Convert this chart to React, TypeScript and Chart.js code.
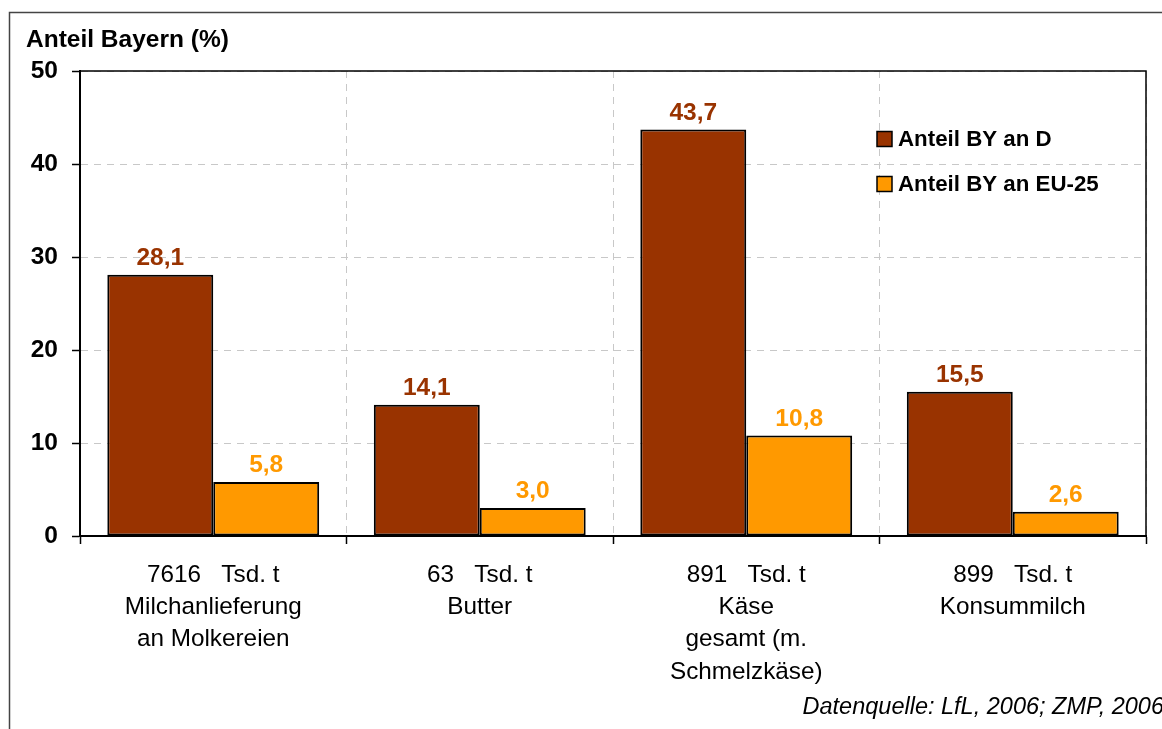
import React, { useEffect, useRef } from "react";
import { Chart, registerables } from "chart.js";

Chart.register(...registerables);

const categories: string[][] = [
  ["7616   Tsd. t", "Milchanlieferung", "an Molkereien"],
  ["63   Tsd. t", "Butter"],
  ["891   Tsd. t", "Käse", "gesamt (m.", "Schmelzkäse)"],
  ["899   Tsd. t", "Konsummilch"],
];
const seriesNames = ["Anteil BY an D", "Anteil BY an EU-25"];
const shareD = [28.1, 14.1, 43.7, 15.5];
const shareEU = [5.8, 3.0, 10.8, 2.6];
const yTicks = [0, 10, 20, 30, 40, 50];
const yTitle = "Anteil Bayern (%)";
const sourceNote = "Datenquelle: LfL, 2006; ZMP, 2006";

const COLORS = ["#993300", "#FF9900"];
const FONT = "'Liberation Sans', Arial, sans-serif";

const decorPlugin = {
  id: "decor",
  afterDraw(chart: any) {
    const ctx = chart.ctx as CanvasRenderingContext2D;
    const area = chart.chartArea;
    ctx.save();
    // outer frame
    ctx.strokeStyle = "#444";
    ctx.lineWidth = 1.5;
    ctx.beginPath();
    ctx.moveTo(9.5, 740);
    ctx.lineTo(9.5, 12.5);
    ctx.lineTo(1170, 12.5);
    ctx.stroke();
    // plot frame top/right
    ctx.strokeStyle = "#000";
    ctx.lineWidth = 1.5;
    ctx.beginPath();
    ctx.moveTo(area.left, area.top);
    ctx.lineTo(area.right, area.top);
    ctx.lineTo(area.right, area.bottom);
    ctx.stroke();
    // y title
    ctx.fillStyle = "#000";
    ctx.font = `bold 24.5px ${FONT}`;
    ctx.textAlign = "left";
    ctx.textBaseline = "alphabetic";
    ctx.fillText(yTitle, 26, 47);
    // data labels
    chart.data.datasets.forEach((ds: any, di: number) => {
      const meta = chart.getDatasetMeta(di);
      ctx.fillStyle = COLORS[di];
      ctx.font = `bold 24.5px ${FONT}`;
      ctx.textAlign = "center";
      ctx.textBaseline = "alphabetic";
      meta.data.forEach((bar: any, i: number) => {
        const v = ds.data[i] as number;
        ctx.fillText(v.toFixed(1).replace(".", ","), bar.x, bar.y - 10);
      });
    });
    // legend
    ctx.font = `bold 22.3px ${FONT}`;
    ctx.textAlign = "left";
    ctx.textBaseline = "middle";
    seriesNames.forEach((name, i) => {
      const y = 139 + i * 45;
      ctx.fillStyle = COLORS[i];
      ctx.fillRect(877, y - 7.5, 15, 15);
      ctx.strokeStyle = "#000";
      ctx.lineWidth = 1.5;
      ctx.strokeRect(877, y - 7.5, 15, 15);
      ctx.fillStyle = "#000";
      ctx.fillText(name, 898, y + 1);
    });
    // source note
    ctx.font = `italic 23.5px ${FONT}`;
    ctx.textAlign = "right";
    ctx.textBaseline = "middle";
    ctx.fillStyle = "#000";
    ctx.fillText(sourceNote, 1164, 707);
    ctx.restore();
  },
};

export default function App() {
  const ref = useRef<HTMLCanvasElement>(null);
  useEffect(() => {
    const prevMargin = document.body.style.margin;
    document.body.style.margin = "0";
    const chart = new Chart(ref.current as HTMLCanvasElement, {
      type: "bar",
      data: {
        labels: categories,
        datasets: [
          {
            label: seriesNames[0],
            data: shareD,
            backgroundColor: COLORS[0],
            borderColor: "#000",
            borderWidth: 2,
            borderSkipped: false,
          },
          {
            label: seriesNames[1],
            data: shareEU,
            backgroundColor: COLORS[1],
            borderColor: "#000",
            borderWidth: 2,
            borderSkipped: false,
          },
        ],
      },
      options: {
        animation: false,
        responsive: false,
        maintainAspectRatio: false,
        layout: { padding: { top: 71, right: 16, left: 0, bottom: 0 } },
        datasets: { bar: { categoryPercentage: 0.795, barPercentage: 1.0 } },
        plugins: { legend: { display: false }, tooltip: { enabled: false } },
        scales: {
          x: {
            grid: {
              offset: true,
              color: "#c8c8c8",
              lineWidth: 1,
              tickColor: "#000",
              tickLength: 8,
              tickWidth: 1.5,
            },
            border: { display: true, color: "#000", width: 2, dash: [7, 6] },
            ticks: {
              color: "#000",
              font: { family: FONT, size: 24.3, lineHeight: 1.33 },
              padding: 15,
              maxRotation: 0,
              autoSkip: false,
            },
            afterFit: (scale: any) => {
              scale.height = 193;
            },
          },
          y: {
            min: 0,
            max: 50,
            afterBuildTicks: (scale: any) => {
              scale.ticks = yTicks.map((v) => ({ value: v }));
            },
            grid: {
              color: "#c8c8c8",
              lineWidth: 1,
              tickColor: "#000",
              tickLength: 8,
              tickWidth: 1.5,
            },
            border: { display: true, color: "#000", width: 2, dash: [7, 6] },
            ticks: {
              color: "#000",
              font: { family: FONT, size: 24.5, weight: "bold" },
              padding: 14,
            },
            afterFit: (scale: any) => {
              scale.width = 80;
            },
          },
        },
      },
      plugins: [decorPlugin],
    });
    return () => {
      chart.destroy();
      document.body.style.margin = prevMargin;
    };
  }, []);
  return (
    <div style={{ position: "absolute", left: 0, top: 0, width: 1162, height: 729, background: "#fff" }}>
      <canvas ref={ref} width={1162} height={729} />
    </div>
  );
}
